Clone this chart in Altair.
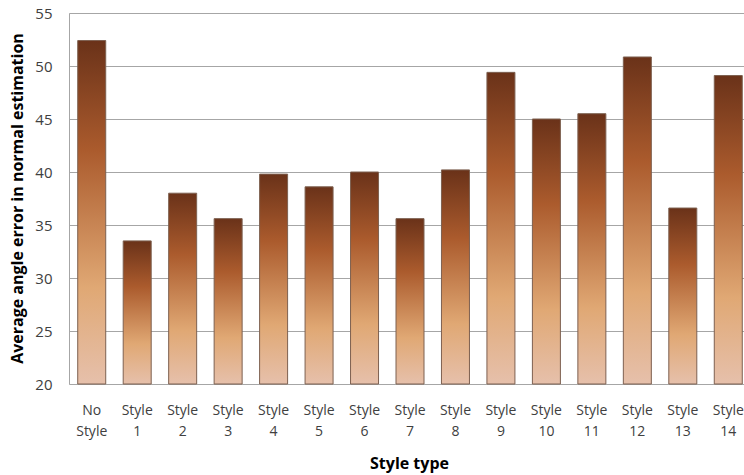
import altair as alt
import pandas as pd

# Average angle error in normal estimation, per rendering style
styles = ["No Style", "Style 1", "Style 2", "Style 3", "Style 4", "Style 5",
          "Style 6", "Style 7", "Style 8", "Style 9", "Style 10", "Style 11",
          "Style 12", "Style 13", "Style 14"]
errors = [52.4, 33.5, 38.0, 35.6, 39.8, 38.6, 40.0, 35.6, 40.2, 49.4,
          45.0, 45.5, 50.85, 36.6, 49.1]
y_ticks = [20, 25, 30, 35, 40, 45, 50, 55]
y_floor = 20

df = pd.DataFrame({"style": styles, "error": errors})

bar_fill = alt.Gradient(
    gradient="linear",
    x1=0, x2=0, y1=0, y2=1,
    stops=[
        alt.GradientStop(offset=0.0, color="#6a3219"),
        alt.GradientStop(offset=0.32, color="#ab5b2d"),
        alt.GradientStop(offset=0.72, color="#e0a874"),
        alt.GradientStop(offset=1.0, color="#e6c0ab"),
    ],
)

font = "Open Sans"

chart = (
    alt.Chart(df)
    .mark_bar(fill=bar_fill, stroke="#7d6050", strokeWidth=1, width=28)
    .encode(
        x=alt.X(
            "style:N",
            sort=styles,
            scale=alt.Scale(paddingInner=0, paddingOuter=0),
            axis=alt.Axis(
                title="Style type",
                labelExpr="split(datum.label, ' ')",
                labelAngle=0,
                labelFont=font,
                labelFontSize=14,
                labelColor="#404040",
                labelLineHeight=21,
                labelPadding=19,
                labelBaseline="top",
                ticks=False,
                domain=False,
                titleFont=font,
                titleFontSize=16,
                titleFontWeight="bold",
                titleColor="#000000",
                titleX=340,
                titleY=87,
                titleBaseline="bottom",
            ),
        ),
        y=alt.Y(
            "error:Q",
            scale=alt.Scale(domain=[20, 55], zero=False, nice=False),
            axis=alt.Axis(
                title="Average angle error in normal estimation",
                values=y_ticks,
                labelFont=font,
                labelFontSize=15,
                labelColor="#404040",
                labelPadding=17,
                ticks=False,
                domainColor="#a6a6a6",
                gridColor="#a6a6a6",
                gridWidth=1,
                titleFont=font,
                titleFontSize=16,
                titleFontWeight="bold",
                titleColor="#000000",
                titleX=-47,
                titleY=185,
                titleAngle=-90,
                titleAlign="center",
                titleBaseline="alphabetic",
            ),
        ),
        y2=alt.datum(y_floor),
    )
    .properties(
        width=682,
        height=371,
        autosize=alt.AutoSizeParams(type="none"),
        padding={"left": 69, "top": 13, "right": -7, "bottom": 91},
    )
    .configure_view(stroke=None)
    .configure_axisX(grid=False)
    .configure(background="#ffffff")
)

chart.save("out.html", embed_options={"renderer": "svg", "actions": False})
